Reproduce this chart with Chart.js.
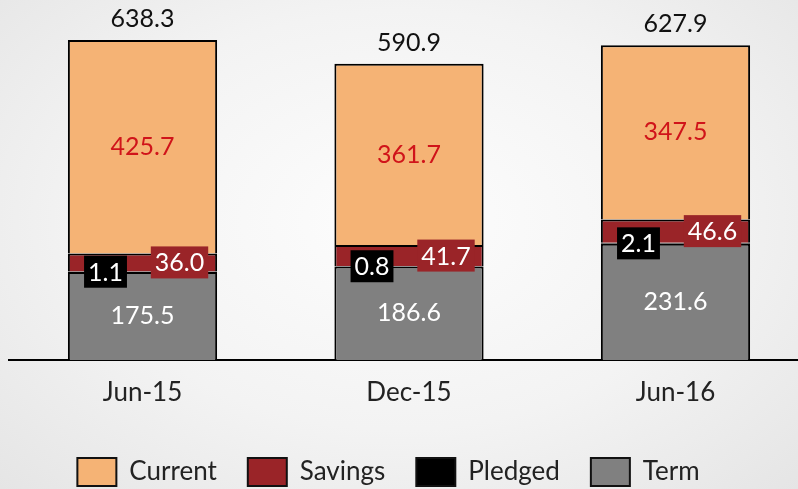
<!DOCTYPE html>
<html>
<head>
<meta charset="utf-8">
<script src="https://cdn.jsdelivr.net/npm/chart.js@4"></script>
<style>
  html, body { margin: 0; padding: 0; width: 798px; height: 489px; overflow: hidden; }
  body { background: radial-gradient(ellipse at 50% 45%, #fdfdfd 0%, #f3f3f3 55%, #e5e5e5 100%); }
  #wrap { width: 798px; height: 489px; position: relative; }
</style>
</head>
<body>
<div id="wrap"><canvas id="chart"></canvas></div>
<script>
// data, bottom of the stack first
const periods = ['Jun-15', 'Dec-15', 'Jun-16'];
const term = [175.5, 186.6, 231.6];
const pledged = [1.1, 0.8, 2.1];
const savings = [36.0, 41.7, 46.6];
const current = [425.7, 361.7, 347.5];
const totals = [638.3, 590.9, 627.9];

const COLORS = { current: '#f5b375', savings: '#9a2428', pledged: '#000000', term: '#808080', red: '#d0141a' };
const FONT = 'Lato, "Noto Sans", sans-serif';

const pts = arr => arr.map((v, i) => ({ x: i, y: v }));

// value labels drawn on the bars
const labelPlugin = {
    id: 'barLabels',
    afterLayout(chart) {
        // legend sits a little left of centre in the original
        if (chart.legend) { chart.legend.left -= 15; chart.legend.right -= 15; }
    },
    afterDatasetsDraw(chart) {
        const ctx = chart.ctx;
        ctx.save();
        ctx.font = '25px ' + FONT;
        ctx.textAlign = 'center';
        ctx.textBaseline = 'middle';
        chart.data.datasets.forEach((ds, di) => {
            const meta = chart.getDatasetMeta(di);
            meta.data.forEach((bar, i) => {
                const { x, y, base } = bar.getProps(['x', 'y', 'base'], true);
                const cy = (y + base) / 2;
                const txt = ds.data[i].y.toFixed(1);
                if (ds.label === 'Term') {
                    ctx.fillStyle = '#ffffff';
                    ctx.fillText(txt, x, cy);
                } else if (ds.label === 'Current') {
                    ctx.fillStyle = COLORS.red;
                    ctx.fillText(txt, x, cy);
                    ctx.fillStyle = '#111';
                    ctx.fillText(totals[i].toFixed(1), x, y - 21);
                } else {
                    const bx = ds.label === 'Pledged' ? x - 37 : x + 37;
                    const w = ctx.measureText(txt).width + 8;
                    const h = 32;
                    ctx.fillStyle = ds.backgroundColor;
                    ctx.fillRect(bx - w / 2, cy - h / 2, w, h);
                    ctx.fillStyle = '#ffffff';
                    ctx.fillText(txt, bx, cy + 1);
                }
            });
        });
        ctx.restore();
    }
};

const mk = (label, data, color) => ({
    label, data: pts(data), backgroundColor: color,
    borderColor: '#000', borderWidth: 2, borderSkipped: 'start',
    categoryPercentage: 1, barPercentage: 0.56
});

new Chart(document.getElementById('chart'), {
    type: 'bar',
    data: {
        datasets: [
            mk('Term', term, COLORS.term),
            mk('Pledged', pledged, COLORS.pledged),
            mk('Savings', savings, COLORS.savings),
            mk('Current', current, COLORS.current)
        ]
    },
    options: {
        responsive: true, maintainAspectRatio: false, animation: false,
        layout: { padding: { top: 9, left: 9, right: 0, bottom: -7 } },
        plugins: {
            tooltip: { enabled: false },
            legend: {
                position: 'bottom', reverse: true,
                labels: {
                    color: '#222', boxWidth: 39, boxHeight: 28, padding: 31,
                    font: { size: 26, family: FONT },
                    generateLabels: chart => chart.data.datasets.map((ds, i) => ({
                        text: ds.label, fillStyle: ds.backgroundColor, strokeStyle: '#111',
                        lineWidth: 2, datasetIndex: i, hidden: false, fontColor: '#222'
                    }))
                }
            }
        },
        scales: {
            x: {
                type: 'linear', stacked: true, offset: false, min: -0.501, max: 2.4597,
                grid: { display: false },
                border: { display: true, color: '#000', width: 2 },
                afterBuildTicks: s => { s.ticks = periods.map((p, i) => ({ value: i })); },
                afterFit: s => { s.height = 67; },
                ticks: {
                    color: '#222', padding: 9, font: { size: 26, family: FONT },
                    callback: v => periods[v]
                }
            },
            y: { stacked: true, display: false, min: 0, max: 700 }
        }
    },
    plugins: [labelPlugin]
});
</script>
</body>
</html>
